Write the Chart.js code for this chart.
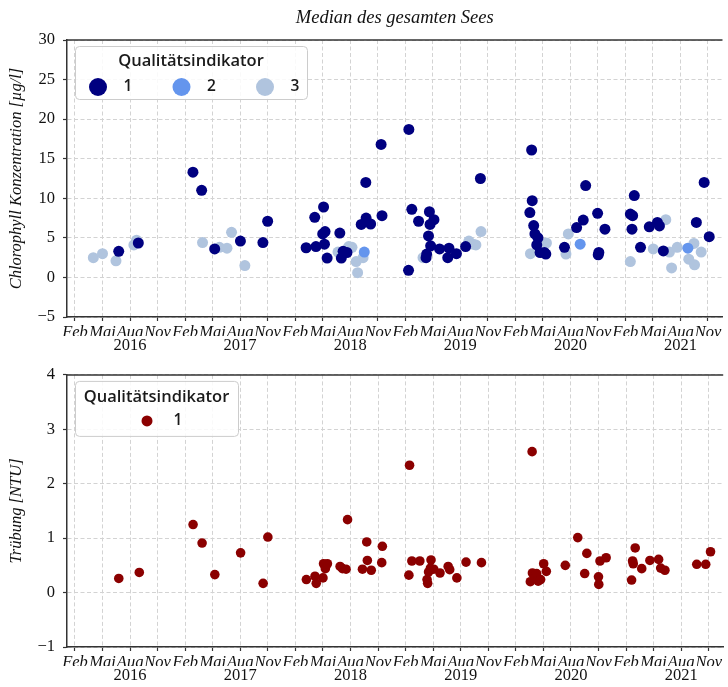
<!DOCTYPE html>
<html>
<head>
<meta charset="utf-8">
<script src="https://cdn.jsdelivr.net/npm/chart.js@4/dist/chart.umd.min.js"></script>
<style>
  html, body { margin: 0; padding: 0; background: #fff; overflow: hidden; }
  #wrap { position: relative; width: 728px; height: 687px; }
  canvas { position: absolute; left: 0; display: block; }
  #chl { top: 0; }
  #ntu { top: 357px; }
</style>
</head>
<body>
<div id="wrap">
  <canvas id="chl" width="728" height="357"></canvas>
  <canvas id="ntu" width="728" height="330"></canvas>
</div>
<script>
// ---- data ---------------------------------------------------------------
const years = [2016, 2017, 2018, 2019, 2020, 2021];
const monthNames = ['Feb', 'Mai', 'Aug', 'Nov'];
const tickMonths = [2, 5, 8, 11];
const yearLabelMonth = 8;
const axisStart = '2016-01-05';
const axisEnd = '2021-12-19';

const qualityLabels = ['1', '2', '3'];

// Chlorophyll median, quality indicator 1
const chlQ1Dates = [
  '2016-06-24','2016-08-29',
  '2017-02-25','2017-03-26','2017-05-08','2017-08-02','2017-10-16','2017-11-01',
  '2018-03-07','2018-04-05','2018-04-09','2018-05-01','2018-05-04','2018-05-07','2018-05-09','2018-05-16',
  '2018-06-27','2018-07-02','2018-07-08','2018-07-21','2018-09-07','2018-09-22','2018-09-23','2018-10-08',
  '2018-11-12','2018-11-15',
  '2019-02-11','2019-02-12','2019-02-21','2019-03-15','2019-04-09','2019-04-11','2019-04-17','2019-04-20',
  '2019-04-22','2019-04-24','2019-05-05','2019-05-24','2019-06-20','2019-06-24','2019-07-19','2019-08-19',
  '2019-10-07',
  '2020-03-19','2020-03-25','2020-03-27','2020-04-01','2020-04-05','2020-04-11','2020-04-15','2020-04-22',
  '2020-05-06','2020-05-11','2020-07-12','2020-08-22','2020-09-13','2020-09-21','2020-10-31','2020-11-02',
  '2020-11-04','2020-11-24',
  '2021-02-16','2021-02-21','2021-02-23','2021-02-28','2021-03-21','2021-04-19','2021-05-16','2021-05-23',
  '2021-06-05','2021-09-23','2021-10-19','2021-11-05'
];
const chlQ1Values = [
  3.3, 4.35,
  13.3, 11.0, 3.6, 4.6, 4.4, 7.1,
  3.75, 7.6, 3.9, 5.5, 8.9, 4.2, 5.8, 2.45,
  5.6, 2.45, 3.3, 3.15, 6.7, 12.0, 7.5, 6.75,
  16.8, 7.8,
  0.9, 18.7, 8.6, 7.1, 2.5, 2.95, 5.25, 8.3,
  6.7, 4.0, 7.3, 3.6, 2.5, 3.7, 3.0, 3.9,
  12.5,
  8.2, 16.1, 9.7, 6.55, 5.5, 4.1, 5.0, 3.15,
  3.15, 2.95, 3.8, 6.3, 7.25, 11.6, 8.1, 2.85,
  3.15, 6.1,
  8.0, 6.1, 7.8, 10.35, 3.8, 6.4, 6.95, 6.5,
  3.35, 6.95, 12.0, 5.15
];

// Chlorophyll median, quality indicator 2
const chlQ2Dates = ['2018-09-17', '2020-09-03', '2021-08-26'];
const chlQ2Values = [3.2, 4.2, 3.7];

// Chlorophyll median, quality indicator 3
const chlQ3Dates = [
  '2016-04-01','2016-05-01','2016-06-15','2016-08-14','2016-08-23',
  '2017-03-29','2017-05-24','2017-06-18','2017-07-03','2017-08-17',
  '2018-06-21','2018-07-27','2018-08-07','2018-08-21','2018-08-26','2018-09-13',
  '2019-03-30','2019-08-30','2019-09-13','2019-09-22','2019-10-09',
  '2020-03-21','2020-05-13','2020-07-17','2020-07-25',
  '2021-02-16','2021-05-02','2021-06-13','2021-06-25','2021-07-02','2021-07-21','2021-08-29',
  '2021-09-15','2021-09-17','2021-10-09'
];
const chlQ3Values = [
  2.5, 3.0, 2.1, 4.1, 4.7,
  4.4, 3.8, 3.7, 5.7, 1.5,
  3.2, 3.9, 3.8, 2.0, 0.6, 2.5,
  2.5, 4.6, 4.2, 4.1, 5.8,
  3.0, 4.35, 2.95, 5.5,
  2.0, 3.6, 7.3, 3.2, 1.2, 3.8, 2.3,
  4.3, 1.6, 3.2
];

// Turbidity median, quality indicator 1
const ntuDates = [
  '2016-06-24','2016-09-01',
  '2017-02-25','2017-03-27','2017-05-08','2017-08-02','2017-10-16','2017-11-01',
  '2018-03-07','2018-04-05','2018-04-09','2018-05-01','2018-05-03','2018-05-09','2018-05-16','2018-06-27',
  '2018-07-05','2018-07-17','2018-07-22','2018-09-10','2018-09-24','2018-09-26','2018-10-09','2018-11-13',
  '2018-11-15',
  '2019-02-11','2019-02-13','2019-02-20','2019-03-18','2019-04-11','2019-04-13','2019-04-16','2019-04-22',
  '2019-04-24','2019-05-03','2019-05-24','2019-06-20','2019-06-25','2019-07-19','2019-08-19','2019-10-09',
  '2020-03-19','2020-03-25','2020-03-26','2020-04-03','2020-04-09','2020-04-14','2020-04-22','2020-05-02',
  '2020-05-11','2020-07-13','2020-08-24','2020-09-16','2020-09-23','2020-11-01','2020-11-02','2020-11-06',
  '2020-11-26',
  '2021-02-18','2021-02-21','2021-02-23','2021-03-01','2021-03-23','2021-04-19','2021-05-18','2021-05-25',
  '2021-06-08','2021-09-22','2021-10-22','2021-11-07'
];
const ntuValues = [
  0.26, 0.37,
  1.25, 0.91, 0.33, 0.73, 0.17, 1.02,
  0.24, 0.30, 0.17, 0.27, 0.53, 0.44, 0.53, 0.48,
  0.44, 0.43, 1.34, 0.43, 0.93, 0.59, 0.41, 0.55,
  0.85,
  0.32, 2.34, 0.58, 0.58, 0.24, 0.17, 0.38, 0.45,
  0.60, 0.43, 0.36, 0.48, 0.42, 0.27, 0.56, 0.55,
  0.20, 2.59, 0.36, 0.27, 0.35, 0.21, 0.24, 0.53,
  0.39, 0.50, 1.01, 0.35, 0.72, 0.29, 0.15, 0.58,
  0.64,
  0.23, 0.58, 0.53, 0.82, 0.44, 0.59, 0.61, 0.45,
  0.41, 0.52, 0.52, 0.75
];

// ---- helpers ------------------------------------------------------------
// position of a date in months since 1 Jan 2016
function monthPos(iso) {
  const [y, m, d] = iso.split('-').map(Number);
  const dim = new Date(y, m, 0).getDate();
  return (y - years[0]) * 12 + (m - 1) + (d - 1) / dim;
}
const points = (dates, values) => dates.map((d, i) => ({ x: monthPos(d), y: values[i] }));

const monthTicks = [];
years.forEach(y => tickMonths.forEach(m => monthTicks.push((y - years[0]) * 12 + m - 1)));
const yearTicks = years.map(y => (y - years[0]) * 12 + yearLabelMonth - 1);

const SERIF = '"Liberation Serif", "Times New Roman", serif';
const SANS = '"Open Sans", "DejaVu Sans", sans-serif';
const INK = '#111111';
const GRID = '#d3d3d3';
const AXIS = '#333333';
const DASH = [4, 2.5];

function monthAxis() {
  return {
    type: 'linear', position: 'bottom', weight: 0,
    min: monthPos(axisStart), max: monthPos(axisEnd),
    afterBuildTicks: s => { s.ticks = monthTicks.map(v => ({ value: v })); },
    afterFit: s => { s.height = 19; },
    ticks: {
      autoSkip: false, maxRotation: 0, minRotation: 0, padding: 3.5, color: INK,
      font: { family: SERIF, style: 'italic', size: 16.5, lineHeight: 1 },
      callback: (v, i) => monthNames[i % monthNames.length]
    },
    grid: { color: GRID, lineWidth: 1, tickLength: 4, tickColor: AXIS, tickWidth: 1.2, tickBorderDash: [] },
    border: { display: true, color: AXIS, width: 1.5, dash: DASH }
  };
}
function yearAxis() {
  return {
    type: 'linear', position: 'bottom', weight: 1,
    min: monthPos(axisStart), max: monthPos(axisEnd),
    afterBuildTicks: s => { s.ticks = yearTicks.map(v => ({ value: v })); },
    afterFit: s => { s.height = 21; },
    ticks: {
      autoSkip: false, maxRotation: 0, minRotation: 0, padding: 1, color: INK,
      font: { family: SERIF, size: 16.5, lineHeight: 1 },
      callback: (v, i) => String(years[i])
    },
    grid: { display: false, drawTicks: false },
    border: { display: false }
  };
}
function valueAxis(min, max, step, title) {
  return {
    min, max,
    afterFit: s => { s.width = 67; },
    ticks: {
      stepSize: step, padding: 8, color: INK,
      font: { family: SERIF, size: 16.5 },
      callback: v => (v < 0 ? '\u2212' + Math.abs(v) : String(v))
    },
    grid: { color: GRID, lineWidth: 1, tickLength: 4, tickColor: AXIS, tickWidth: 1.2, tickBorderDash: [] },
    border: { display: true, color: AXIS, width: 1.5, dash: DASH },
    title: {
      display: true, text: title, color: INK,
      font: { family: SERIF, style: 'italic', size: 16.5 },
      padding: { top: 7, bottom: 0 }
    }
  };
}

// upper frame line of the plot area
const topFrame = {
  id: 'topFrame',
  afterDraw(chart) {
    const { ctx, chartArea: a } = chart;
    ctx.save();
    ctx.strokeStyle = AXIS; ctx.lineWidth = 1.5;
    ctx.beginPath(); ctx.moveTo(a.left, a.top); ctx.lineTo(a.right, a.top); ctx.stroke();
    ctx.restore();
  }
};

// legend box placed inside the plot area
const insetLegend = {
  id: 'insetLegend',
  afterDraw(chart, args, o) {
    const { ctx, chartArea: a } = chart;
    const x = a.left + o.dx, y = a.top + o.dy;
    ctx.save();
    ctx.beginPath();
    ctx.roundRect(x + 0.5, y + 0.5, o.w, o.h, 4);
    ctx.fillStyle = 'rgba(255,255,255,0.85)'; ctx.fill();
    ctx.strokeStyle = '#cccccc'; ctx.lineWidth = 1; ctx.stroke();
    ctx.textAlign = 'center'; ctx.textBaseline = 'middle';
    ctx.fillStyle = '#1a1a1a';
    ctx.font = '600 16.5px ' + SANS;
    ctx.fillText(o.title, x + o.w / 2, y + o.titleY);
    chart.data.datasets.forEach((ds, i) => {
      const cx = x + o.itemX + i * o.itemGap, cy = y + o.itemY;
      ctx.beginPath(); ctx.arc(cx, cy, o.markerR, 0, Math.PI * 2);
      ctx.fillStyle = ds.backgroundColor; ctx.fill();
      ctx.fillStyle = '#1a1a1a';
      ctx.font = '600 15.5px ' + SANS;
      ctx.fillText(ds.label, cx + o.labelDx, cy);
    });
    ctx.restore();
  }
};

Chart.defaults.font.family = SERIF;

// ---- chlorophyll --------------------------------------------------------
new Chart(document.getElementById('chl'), {
  type: 'scatter',
  data: {
    datasets: [
      { label: qualityLabels[0], data: points(chlQ1Dates, chlQ1Values), backgroundColor: '#000080' },
      { label: qualityLabels[1], data: points(chlQ2Dates, chlQ2Values), backgroundColor: '#6495ED' },
      { label: qualityLabels[2], data: points(chlQ3Dates, chlQ3Values), backgroundColor: '#B0C4DE' }
    ].map(d => Object.assign(d, { pointRadius: 5.5, pointBorderWidth: 0, pointHoverRadius: 5.5 }))
  },
  options: {
    responsive: false, animation: false, devicePixelRatio: 1, events: [],
    layout: { padding: { top: 0, left: 0, right: 0, bottom: 0 } },
    scales: {
      x: monthAxis(),
      xYear: yearAxis(),
      y: valueAxis(-5, 30, 5, 'Chlorophyll Konzentration [µg/l]')
    },
    plugins: {
      legend: { display: false },
      tooltip: { enabled: false },
      title: {
        display: true, fullSize: false, text: 'Median des gesamten Sees', color: INK,
        font: { family: SERIF, style: 'italic', size: 18.5, weight: 'normal' },
        padding: { top: 7, bottom: 10.8 }
      },
      insetLegend: {
        title: 'Qualitätsindikator', dx: 8, dy: 6, w: 232, h: 53,
        titleY: 15, itemY: 41, itemX: 23, itemGap: 83.5, labelDx: 30, markerR: 9
      }
    }
  },
  plugins: [topFrame, insetLegend]
});

// ---- turbidity ----------------------------------------------------------
new Chart(document.getElementById('ntu'), {
  type: 'scatter',
  data: {
    datasets: [
      { label: qualityLabels[0], data: points(ntuDates, ntuValues), backgroundColor: '#8B0000',
        pointRadius: 4.8, pointBorderWidth: 0, pointHoverRadius: 4.8 }
    ]
  },
  options: {
    responsive: false, animation: false, devicePixelRatio: 1, events: [],
    layout: { padding: { top: 14, left: 0, right: 0, bottom: 0 } },
    scales: {
      x: monthAxis(),
      xYear: yearAxis(),
      y: valueAxis(-1, 4, 1, 'Trübung [NTU]')
    },
    plugins: {
      legend: { display: false },
      tooltip: { enabled: false },
      insetLegend: {
        title: 'Qualitätsindikator', dx: 8, dy: 6, w: 163, h: 55,
        titleY: 16, itemY: 40, itemX: 72, itemGap: 0, labelDx: 31, markerR: 5.5
      }
    }
  },
  plugins: [topFrame, insetLegend]
});
</script>
</body>
</html>
